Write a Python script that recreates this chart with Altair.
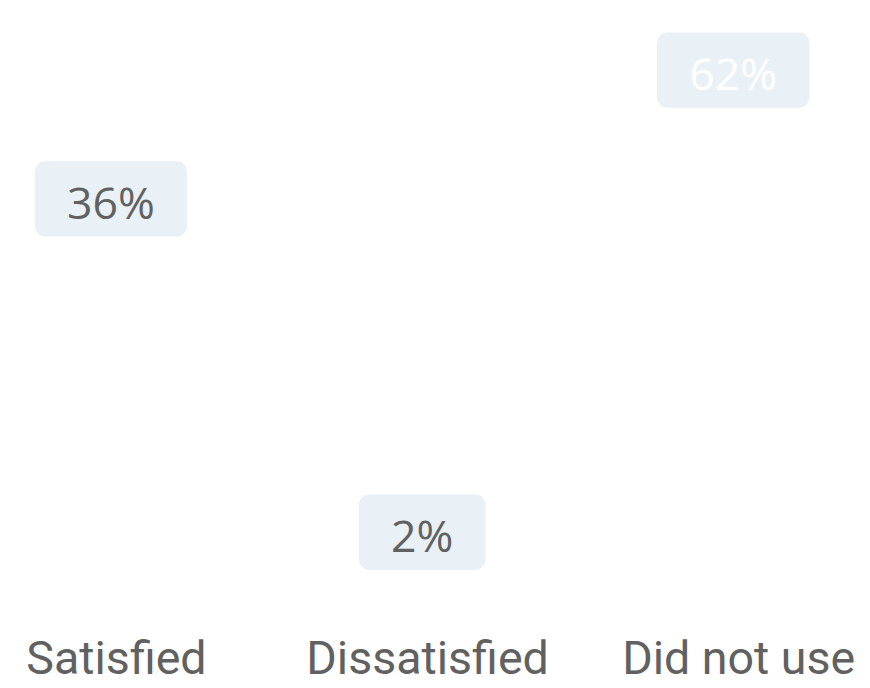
import altair as alt
import pandas as pd

categories = ["Satisfied", "Dissatisfied", "Did not use"]
values = [36, 2, 62]
value_labels = ["36%", "2%", "62%"]

df = pd.DataFrame({"category": categories, "value": values, "label": value_labels})

BOX = "#e9f1f7"
GREY = "#616161"

x_enc = alt.X(
    "category:N",
    sort=categories,
    scale=alt.Scale(type="point", padding=0.3312),
    axis=alt.Axis(
        title=None, ticks=False, tickSize=0, domain=False, grid=False,
        labelAngle=0, labelFont="Roboto", labelFontSize=47,
        labelColor=GREY, labelBaseline="alphabetic", labelPadding=69,
        labelOffset=5, labelOverlap=False, labelLimit=500, labelFlush=False,
    ),
)
y_scale = alt.Scale(type="pow", exponent=0.46, domain=[0, 76.5], range=[647, 0])
y_enc = alt.Y("value:Q", scale=y_scale, axis=None)

base = alt.Chart(df).transform_joinaggregate(maxv="max(value)")

box_wide = base.transform_filter("length(datum.label) >= 3").mark_rect(
    fill=BOX, cornerRadius=11, xOffset=-77, x2Offset=77, yOffset=-38, y2Offset=38
).encode(x=x_enc, x2="category:N", y=y_enc, y2="value:Q")

box_narrow = base.transform_filter("length(datum.label) < 3").mark_rect(
    fill=BOX, cornerRadius=11, xOffset=-64, x2Offset=64, yOffset=-38, y2Offset=38
).encode(x=x_enc, x2="category:N", y=y_enc, y2="value:Q")

text = base.mark_text(
    font="Open Sans", fontSize=45, align="center", baseline="alphabetic", dy=20
).encode(
    x=x_enc,
    y=y_enc,
    text="label:N",
    color=alt.condition("datum.value == datum.maxv", alt.value("#ffffff"), alt.value(GREY)),
)

chart = alt.layer(box_wide, box_narrow, text).properties(
    width=836, height=600,
    autosize=alt.AutoSizeParams(type="none"),
    padding={"left": 0, "top": 0, "right": 26, "bottom": 80},
).configure_view(stroke=None)

chart.save("out.html", embed_options={"renderer": "svg", "actions": False})
